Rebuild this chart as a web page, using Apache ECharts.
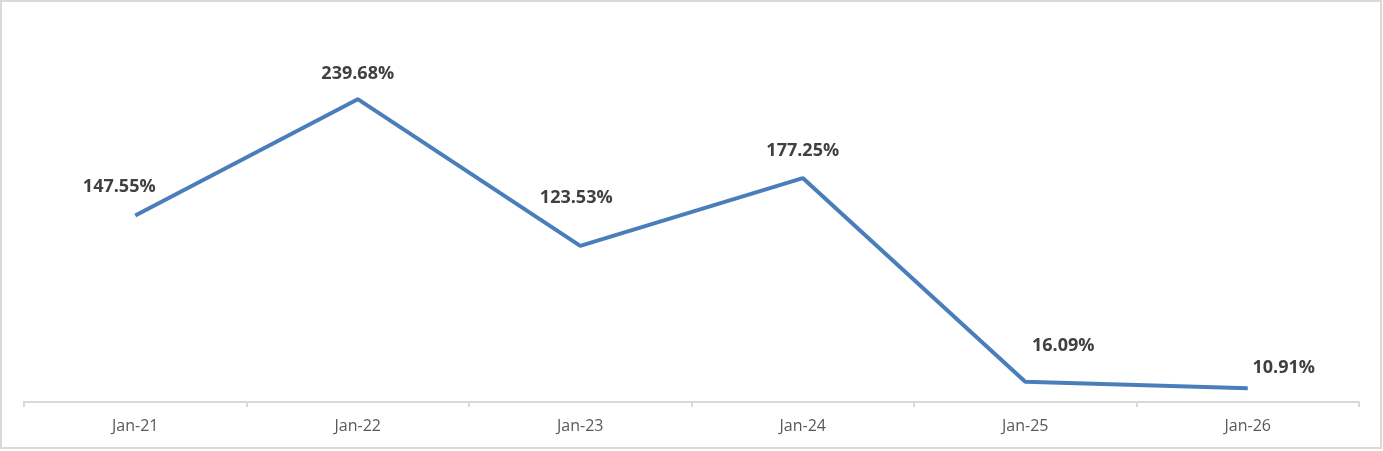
<!DOCTYPE html>
<html>
<head>
<meta charset="utf-8">
<script src="https://cdn.jsdelivr.net/npm/echarts@6/dist/echarts.min.js"></script>
<style>
html,body{margin:0;padding:0;background:#fff;}
#c{width:1383px;height:451px;}
</style>
</head>
<body>
<div id="c"></div>
<script>
const categories = ['Jan-21', 'Jan-22', 'Jan-23', 'Jan-24', 'Jan-25', 'Jan-26'];
const values = [147.55, 239.68, 123.53, 177.25, 16.09, 10.91];
// manual label offsets (as placed in the reference)
const labelOffsets = [[-16, -29], [0, -25], [-4, -48], [0, -27], [38, -36], [36, -20]];

const chart = echarts.init(document.getElementById('c'), null, {renderer: 'canvas'});
const seriesData = values.map((v, i) => ({
  value: v,
  label: {offset: labelOffsets[i]}
}));

chart.setOption({
  animation: false,
  backgroundColor: '#ffffff',
  grid: {left: 24, right: 24, top: 23, bottom: 49, containLabel: false},
  graphic: [{
    type: 'rect',
    shape: {x: 1, y: 1, width: 1380, height: 447},
    style: {fill: 'none', stroke: '#d9d9d9', lineWidth: 2},
    silent: true
  }],
  xAxis: {
    type: 'category',
    data: categories,
    boundaryGap: true,
    axisLine: {show: true, lineStyle: {color: '#d9d9d9', width: 2}},
    axisTick: {show: true, alignWithLabel: false, length: 5, lineStyle: {color: '#d9d9d9', width: 2}},
    axisLabel: {color: '#595959', fontSize: 16, fontFamily: 'Open Sans, Liberation Sans, sans-serif', margin: 16}
  },
  yAxis: {
    type: 'value',
    min: 0,
    max: 300,
    interval: 50,
    show: false,
    splitLine: {show: false}
  },
  series: [{
    type: 'line',
    data: seriesData,
    symbol: 'circle',
    symbolSize: 0,
    showSymbol: true,
    lineStyle: {color: '#4a7ebb', width: 4},
    itemStyle: {color: '#4a7ebb'},
    label: {
      show: true,
      position: 'inside',
      formatter: p => p.value.toFixed(2) + '%',
      color: '#404040',
      fontWeight: 'bold',
      fontSize: 18,
      fontFamily: 'Open Sans, Liberation Sans, sans-serif'
    }
  }]
});
</script>
</body>
</html>
